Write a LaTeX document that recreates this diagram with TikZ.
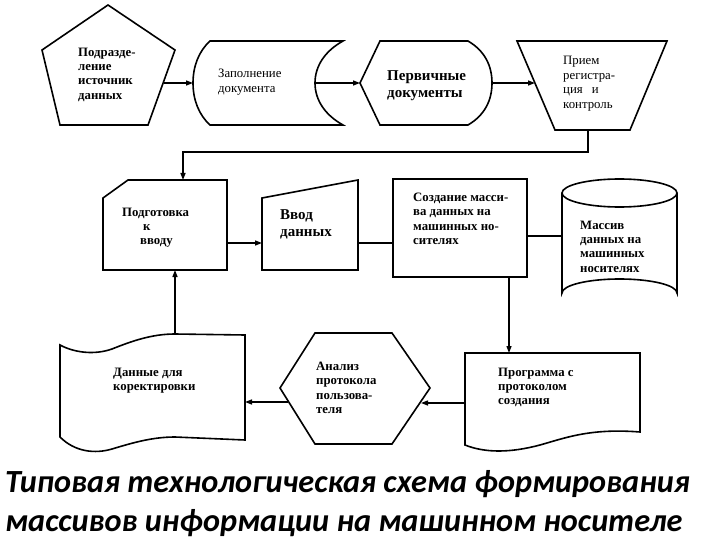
\documentclass[tikz,border=0pt]{standalone}
\usepackage{fontspec}
\setmainfont{Liberation Serif}
\newfontfamily\capfont{Carlito}
\usetikzlibrary{arrows.meta}
\tikzset{
  shp/.style={line width=1.6pt, line join=miter},
  conn/.style={line width=1.3pt},
  arr/.style={conn,-{Triangle[length=7pt,width=5pt]}},
  txt/.style={anchor=north west, inner sep=0pt, align=left, font=\bfseries\fontsize{12.8}{14.2}\selectfont},
  txtr/.style={anchor=north west, inner sep=0pt, align=left, font=\fontsize{12.8}{14.6}\selectfont},
  txtbig/.style={anchor=north west, inner sep=0pt, align=left, font=\bfseries\fontsize{15}{17}\selectfont},
  captxt/.style={anchor=base west, inner sep=0pt, font=\capfont\bfseries\itshape\fontsize{32.3}{39}\selectfont}
}
\begin{document}
\begin{tikzpicture}[x=1pt,y=-1pt]
\useasboundingbox (0,0) rectangle (720,540);
% ---- shapes ----
% pentagon
\draw[shp] (108,5) -- (175,50) -- (148,125) -- (60,125) -- (42,50) -- cycle;
% stored data
\draw[shp] (210,41) -- (343,41) .. controls (325,51) and (315,66) .. (315,83)
  .. controls (315,100) and (325,115) .. (343,125) -- (210,125)
  .. controls (199,115) and (193,100) .. (193,83) .. controls (193,66) and (199,51) .. (210,41) -- cycle;
% display
\draw[shp] (360,83) -- (380,41) -- (468,41) .. controls (485,51) and (492,66) .. (492,83)
  .. controls (492,100) and (485,115) .. (468,125) -- (380,125) -- cycle;
% manual operation
\draw[shp] (517,41) -- (667,41) -- (630,130) -- (555,130) -- cycle;
% card
\draw[shp] (103,198) -- (128,180) -- (227,180) -- (227,270) -- (103,270) -- cycle;
% manual input
\draw[shp] (262,198) -- (358,180) -- (358,270) -- (262,270) -- cycle;
% process
\draw[shp] (393,179) rectangle (527,277);
% cylinder
\draw[shp] (562,193) -- (562,293) arc[start angle=180, end angle=360, x radius=57.5, y radius=14]
  -- (677,193);
\draw[shp] (619.5,193) ellipse[x radius=57.5, y radius=14];
% document
\draw[shp] (465,353) -- (640,353) -- (640,432) .. controls (590,428) and (565,438) .. (540,445)
  .. controls (510,453) and (485,453) .. (465,445) -- cycle;
% hexagon
\draw[shp] (280,388) -- (315,333) -- (392,333) -- (430,388) -- (392,444) -- (315,444) -- cycle;
% punched tape
\draw[shp] (60,345) .. controls (75,353) and (95,355) .. (112,349)
  .. controls (132,341) and (152,334) .. (175,334) -- (245,335) -- (245,440) -- (175,437)
  .. controls (152,437) and (132,443) .. (112,449) .. controls (95,454) and (75,452) .. (60,437) -- cycle;
% ---- ports ----
\coordinate (pentE) at (164,83);
\coordinate (fillW) at (193,83);
\coordinate (fillE) at (315,83);
\coordinate (primW) at (360,83);
\coordinate (primE) at (492,83);
\coordinate (recvW) at (535,83);
\coordinate (recvS) at (588,130);
\coordinate (bendA) at (588,152);
\coordinate (bendB) at (183,152);
\coordinate (prepN) at (183,180);
\coordinate (prepE) at (227,243);
\coordinate (prepS) at (175,270);
\coordinate (inW) at (262,243);
\coordinate (inE) at (358,243);
\coordinate (mkW) at (393,243);
\coordinate (mkE) at (527,236);
\coordinate (mkS) at (509,277);
\coordinate (cylW) at (562,236);
\coordinate (progN) at (509,353);
\coordinate (progW) at (465,403);
\coordinate (hexE) at (421,403);
\coordinate (hexW) at (288,402);
\coordinate (tapeE) at (245,402);
\coordinate (tapeN) at (175,334);
% ---- connectors ----
\draw[arr] (pentE) -- (fillW);
\draw[arr] (fillE) -- (primW);
\draw[arr] (primE) -- (recvW);
\draw[arr] (recvS) -- (bendA) -- (bendB) -- (prepN);
\draw[arr] (prepE) -- (inW);
\draw[conn] (inE) -- (mkW);
\draw[conn] (mkE) -- (cylW);
\draw[arr] (mkS) -- (progN);
\draw[arr] (progW) -- (hexE);
\draw[arr] (hexW) -- (tapeE);
\draw[arr] (tapeN) -- (prepS);
% ---- texts ----
\node[txt] (t1) at (78,48) {Подразде-\\ление\\источник\\данных};
\node[txtr] (t2) at (218,69) {Заполнение\\документа};
\node[txtbig] (t3) at (387,70) {Первичные\\документы};
\node[txtr] (t4) at (563,56) {Прием\\регистра-\\ция\hspace{9pt}и\\контроль};
\node[txt] (t5) at (122,208) {Подготовка\\\hspace{21pt}к\\\hspace{18pt}вводу};
\node[txtbig] (t6) at (280,209) {Ввод\\данных};
\node[txt] (t7) at (413,193) {Создание масси-\\ва данных на\\машинных но-\\сителях};
\node[txt] (t8) at (580,221) {Массив\\данных на\\машинных\\носителях};
\node[txt] (t9) at (498,368) {Программа с\\протоколом\\создания};
\node[txt] (t10) at (316,362) {Анализ\\протокола\\пользова-\\теля};
\node[txt] (t11) at (113,368) {Данные для\\коректировки};
\node[captxt] (c1) at (5,492) {Типовая технологическая схема формирования};
\node[captxt] (c2) at (5,531) {массивов информации на машинном носителе};
\end{tikzpicture}
\end{document}
